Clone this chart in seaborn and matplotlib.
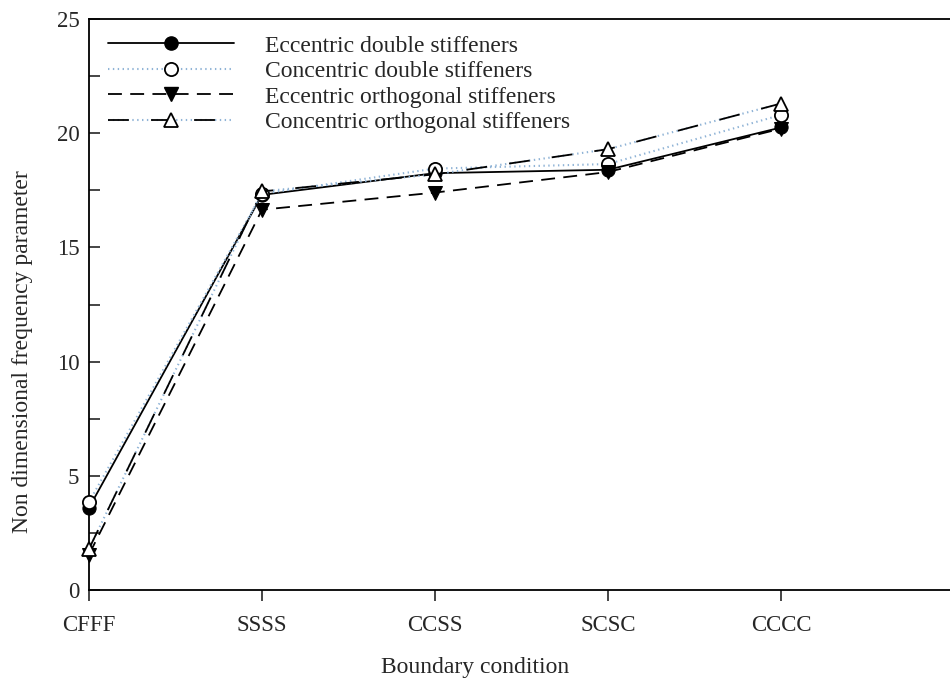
import matplotlib
matplotlib.use("Agg")
import matplotlib.pyplot as plt
import seaborn as sns
import pandas as pd
from matplotlib.lines import Line2D
from matplotlib.legend_handler import HandlerTuple
from matplotlib.ticker import MultipleLocator

# Boundary conditions and frequency parameters for each stiffener layout
conditions = ["CFFF", "SSSS", "CCSS", "SCSC", "CCCC"]
ecc_double = [3.6, 17.3, 18.25, 18.4, 20.25]
con_double = [3.85, 17.35, 18.45, 18.65, 20.8]
ecc_orth = [1.55, 16.65, 17.4, 18.3, 20.2]
con_orth = [1.8, 17.45, 18.2, 19.3, 21.3]

labels = ["Eccentric double stiffeners", "Concentric double stiffeners",
          "Eccentric orthogonal stiffeners", "Concentric orthogonal stiffeners"]

sns.set_style("white")
plt.rcParams["font.family"] = ["Liberation Serif", "DejaVu Serif"]
plt.rcParams["lines.scale_dashes"] = False

dot_blue = "#8fb3d6"

fig = plt.figure(figsize=(9.5, 6.79), dpi=100)
ax = fig.add_axes([89 / 950, 89 / 679, 1 - 89 / 950, 571 / 679])

x = list(range(len(conditions)))
df = pd.DataFrame({"x": x, "ed": ecc_double, "cd": con_double,
                   "eo": ecc_orth, "co": con_orth})

ms = 9.5
# Eccentric double: solid line, filled circles
sns.lineplot(data=df, x="x", y="ed", ax=ax, color="black", lw=1.3,
             marker="o", markersize=ms, markerfacecolor="black",
             markeredgecolor="black", zorder=3, clip_on=False)
# Concentric double: dotted blue line, open circles
sns.lineplot(data=df, x="x", y="cd", ax=ax, color=dot_blue, lw=1.5,
             dashes=(1, 2.5), marker="o", markersize=ms,
             markerfacecolor="white", markeredgecolor="black",
             markeredgewidth=1.3, zorder=4, clip_on=False)
# Eccentric orthogonal: dashed line, filled down-triangles
sns.lineplot(data=df, x="x", y="eo", ax=ax, color="black", lw=1.3,
             dashes=(10, 6), marker="v", markersize=ms + 1,
             markerfacecolor="black", markeredgecolor="black", zorder=5,
             clip_on=False)
# Concentric orthogonal: long dashes with dotted gaps, open up-triangles
sns.lineplot(data=df, x="x", y="co", ax=ax, color=dot_blue, lw=1.5,
             dashes=(1, 2.5), zorder=5, clip_on=False)
sns.lineplot(data=df, x="x", y="co", ax=ax, color="black", lw=1.3,
             dashes=(15, 16), marker="^", markersize=ms + 1,
             markerfacecolor="white", markeredgecolor="black",
             markeredgewidth=1.3, zorder=6, clip_on=False)

ax.set_xlim(0, (950 - 89) / 173)
ax.set_ylim(0, 25)
ax.set_xticks(x)
ax.set_xticklabels(conditions)
ax.yaxis.set_major_locator(MultipleLocator(5))
ax.yaxis.set_minor_locator(MultipleLocator(2.5))

for s in ["left", "bottom", "top"]:
    ax.spines[s].set_color("black")
    ax.spines[s].set_linewidth(1.3)
ax.spines["right"].set_visible(False)

ax.tick_params(axis="x", which="major", direction="out", length=8, width=1.2,
               pad=10, labelsize=16.5, bottom=True)
ax.tick_params(axis="y", which="both", direction="in", length=8, width=1.2,
               pad=7, labelsize=16.5, left=True)

ax.set_xlabel("Boundary condition", fontsize=17)
ax.set_ylabel("Non dimensional frequency parameter", fontsize=17)
ax.xaxis.set_label_coords((475 - 89) / 861, -(657 - 590) / 571)
ax.yaxis.set_label_coords(-(89 - 33) / 861, (590 - 352) / 571)

h1 = Line2D([], [], color="black", lw=1.3, marker="o", markersize=ms,
            markerfacecolor="black")
h2 = Line2D([], [], color=dot_blue, lw=1.5, dashes=(1, 2.5), marker="o",
            markersize=ms, markerfacecolor="white", markeredgecolor="black",
            markeredgewidth=1.3)
h3 = Line2D([], [], color="black", lw=1.3, dashes=(10, 6), marker="v",
            markersize=ms + 1, markerfacecolor="black")
h4a = Line2D([], [], color=dot_blue, lw=1.5, dashes=(1, 2.5))
h4b = Line2D([], [], color="black", lw=1.3, dashes=(15, 16), marker="^",
             markersize=ms + 1, markerfacecolor="white",
             markeredgecolor="black", markeredgewidth=1.3)

ax.legend([h1, h2, h3, (h4a, h4b)], labels,
          handler_map={tuple: HandlerTuple(ndivide=1, pad=0)},
          loc="upper left", bbox_to_anchor=(19 / 861, 1 - 16 / 571),
          frameon=False, fontsize=17, handlelength=5.35, handletextpad=1.3,
          labelspacing=0.17, borderaxespad=0, borderpad=0)

fig.savefig("out.png", dpi=100)
